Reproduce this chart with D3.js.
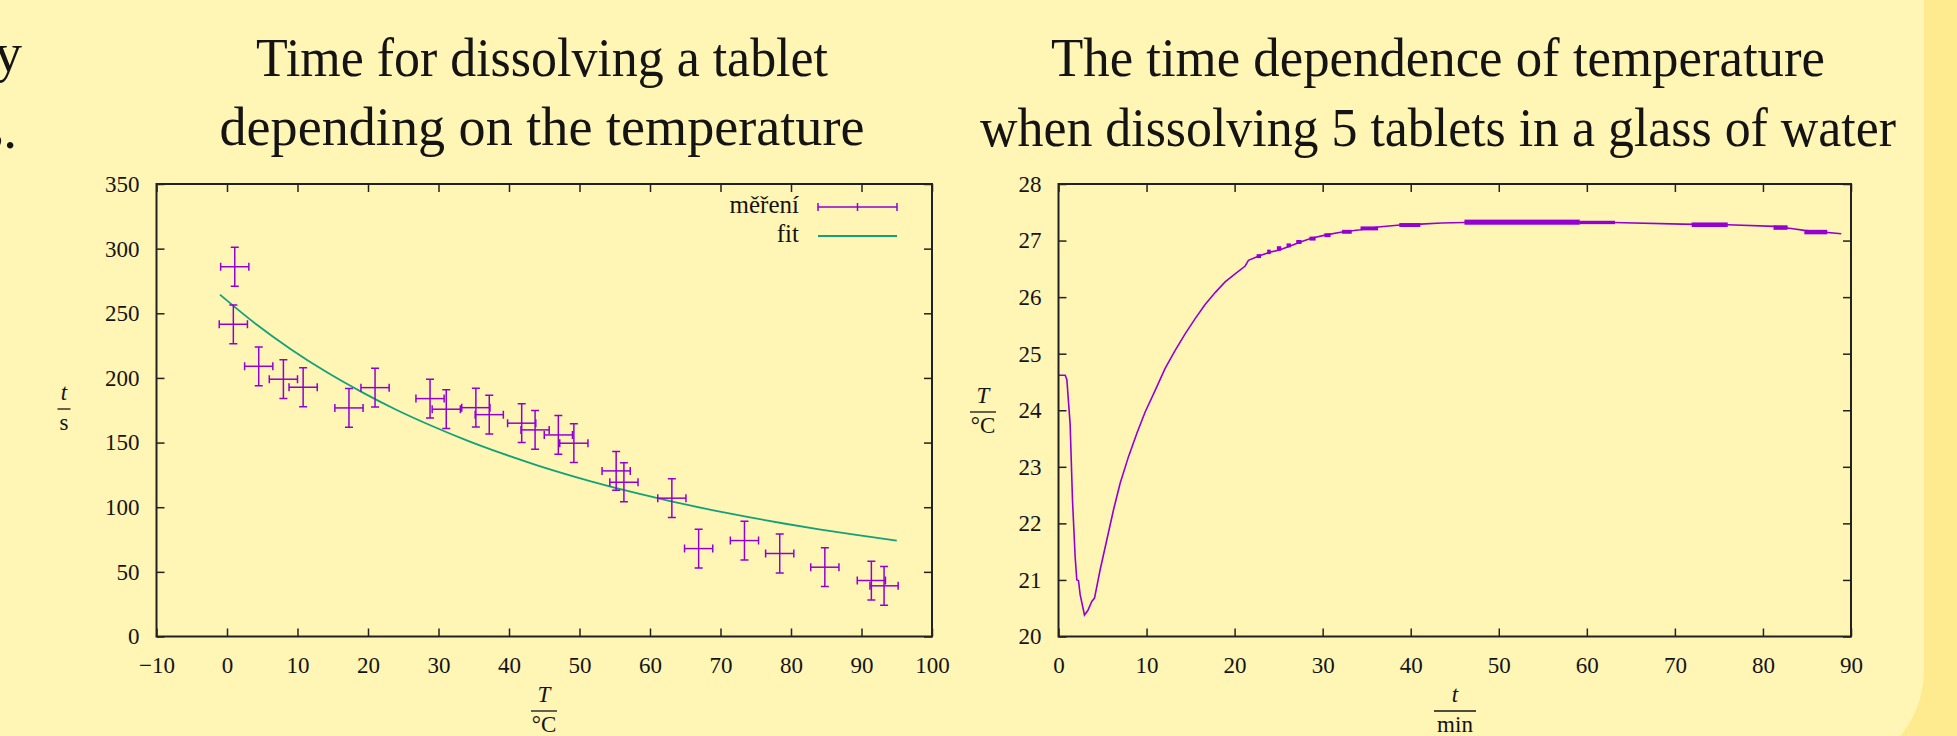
<!DOCTYPE html>
<html>
<head>
<meta charset="utf-8">
<script src="https://cdn.jsdelivr.net/npm/d3@7"></script>
<style>
    body { margin: 0; background: #ffeb8f; }
    svg text { font-family: "Liberation Serif", "DejaVu Serif", serif; fill: #141414; }
    .titles { font-size: 55px; }
    .tick text { font-size: 23px; }
    .tick line { stroke: #222; stroke-width: 1.5; }
    .domain { display: none; }
    .small { font-size: 23px; }
    .legend { font-size: 25px; }
</style>
</head>
<body>
<div id="chart"></div>
<script>
// Chart data
// left chart: tablet dissolving time vs temperature
const tabletTemp = [1.1, 0.9, 4.5, 8.0, 10.8, 17.3, 21.0, 28.8, 31.1, 35.3, 37.2, 41.8, 43.7, 47.0, 49.2, 55.2, 56.3, 63.1, 66.9, 73.4, 78.4, 84.8, 91.4, 93.2];
const tabletTime = [286, 241.5, 209, 199, 192.8, 176.8, 192.5, 184, 175.8, 177, 171.6, 165, 159.8, 155.9, 149.5, 128.1, 119.3, 107, 68, 74.2, 64.2, 53.6, 43.3, 39.2];
const tempError = 2;
const timeError = 15;
const fitTemp = [-1, 4, 9, 14, 19, 24, 29, 34, 39, 44, 49, 54, 59, 64, 69, 74, 79, 84, 89, 95];
const fitTime = [264.4, 242.1, 222.4, 204.9, 189.4, 175.4, 163.0, 151.7, 141.6, 132.4, 124.1, 116.5, 109.7, 103.3, 97.6, 92.3, 87.4, 82.9, 78.8, 74.2];
const leftXTicks = [-10, 0, 10, 20, 30, 40, 50, 60, 70, 80, 90, 100];
const leftYTicks = [0, 50, 100, 150, 200, 250, 300, 350];

// right chart: temperature of water vs time
const glassMinutes = [0, 0.76, 0.95, 1.32, 1.59, 1.89, 2.08, 2.27, 2.46, 2.95, 3.33, 3.78, 4.09, 4.73, 5.49, 6.25, 7.0, 7.95, 8.89, 9.84, 10.98, 12.11, 13.25, 14.38, 15.52, 16.65, 17.79, 18.92, 20.06, 21.2, 21.57, 22.83, 23.9, 25.0, 26.1, 27.4, 28.7, 30.4, 32.2, 34.3, 36.3, 39.1, 41.1, 43.5, 46.1, 63.0, 70.8, 76.0, 81.3, 83.4, 84.7, 88.9];
const glassTemp = [24.62, 24.62, 24.54, 23.76, 22.41, 21.41, 21.0, 20.99, 20.74, 20.38, 20.46, 20.62, 20.68, 21.18, 21.71, 22.24, 22.71, 23.18, 23.59, 23.97, 24.35, 24.74, 25.06, 25.35, 25.62, 25.87, 26.08, 26.27, 26.41, 26.55, 26.65, 26.73, 26.79, 26.83, 26.89, 26.97, 27.04, 27.10, 27.15, 27.19, 27.24, 27.28, 27.29, 27.31, 27.32, 27.32, 27.29, 27.28, 27.25, 27.21, 27.18, 27.12];
// sensor jitter: ranges where the reading flips between two values
const noiseStart = [22.5, 23.7, 24.8, 25.9, 27.0, 28.5, 30.2, 32.2, 34.3, 38.7, 46.1, 59.2, 71.9, 81.2, 84.7];
const noiseEnd   = [23.0, 24.1, 25.3, 26.4, 27.6, 29.2, 30.9, 33.3, 36.3, 41.1, 59.2, 63.2, 76.0, 82.8, 87.3];
const noiseLow   = [26.69, 26.76, 26.82, 26.88, 26.94, 27.00, 27.06, 27.12, 27.18, 27.24, 27.28, 27.29, 27.24, 27.19, 27.11];
const noiseHigh  = [26.76, 26.84, 26.90, 26.95, 27.01, 27.07, 27.13, 27.19, 27.25, 27.31, 27.37, 27.35, 27.32, 27.27, 27.19];
const rightXTicks = [0, 10, 20, 30, 40, 50, 60, 70, 80, 90];
const rightYTicks = [20, 21, 22, 23, 24, 25, 26, 27, 28];

const width = 1957;
const height = 736;
const purple = '#9400d3';
const green = '#12a27a';

const svg = d3.select('div#chart').append('svg').attr('width', width).attr('height', height);

// background: slide panel with rounded corner
svg.append('rect').attr('width', width).attr('height', height).attr('fill', '#ffeb8f');
svg.append('rect').attr('x', -120).attr('y', -120).attr('width', 2044).attr('height', 893).attr('rx', 103).attr('fill', '#fff5b5');

// text cut off at the left edge (previous column)
svg.append('text').attr('class', 'titles').attr('x', 22).attr('y', 71).attr('text-anchor', 'end').text('ly');
svg.append('text').attr('class', 'titles').attr('x', 17).attr('y', 148).attr('text-anchor', 'end').text('ts.');

// titles
function title(lines, cx) {
    lines.forEach(l => {
        svg.append('text').attr('class', 'titles')
            .attr('x', cx).attr('y', l.y).attr('text-anchor', 'middle')
            .attr('textLength', l.w).attr('lengthAdjust', 'spacingAndGlyphs')
            .text(l.text);
    });
}
title([{text: 'Time for dissolving a tablet', y: 76, w: 572},
       {text: 'depending on the temperature', y: 145, w: 645}], 542);
title([{text: 'The time dependence of temperature', y: 76, w: 774},
       {text: 'when dissolving 5 tablets in a glass of water', y: 146, w: 916}], 1438);

// fraction style axis labels
function fraction(cx, y, num, den, barW) {
    const g = svg.append('g').attr('class', 'small');
    g.append('text').attr('x', cx).attr('y', y).attr('text-anchor', 'middle').attr('font-style', 'italic').text(num);
    g.append('line').attr('x1', cx - barW / 2).attr('x2', cx + barW / 2).attr('y1', y + 9).attr('y2', y + 9)
        .attr('stroke', '#141414').attr('stroke-width', 1.3);
    g.append('text').attr('x', cx).attr('y', y + 30).attr('text-anchor', 'middle').text(den);
}

// frame with inward ticks on all four sides
function frame(x, y, xTicks, yTicks) {
    const [x0, x1] = x.range();
    const [y0, y1] = y.range();
    svg.append('g').attr('transform', `translate(0,${y0})`)
        .call(d3.axisBottom(x).tickValues(xTicks).tickSizeInner(-8).tickSizeOuter(0).tickPadding(20)
            .tickFormat(d => d < 0 ? '\u2212' + Math.abs(d) : d));
    svg.append('g').attr('transform', `translate(0,${y1})`)
        .call(d3.axisTop(x).tickValues(xTicks).tickSizeInner(-8).tickSizeOuter(0).tickFormat(''));
    svg.append('g').attr('transform', `translate(${x0},0)`)
        .call(d3.axisLeft(y).tickValues(yTicks).tickSizeInner(-8).tickSizeOuter(0).tickPadding(17));
    svg.append('g').attr('transform', `translate(${x1},0)`)
        .call(d3.axisRight(y).tickValues(yTicks).tickSizeInner(-8).tickSizeOuter(0).tickFormat(''));
    svg.append('rect').attr('x', x0).attr('y', y1).attr('width', x1 - x0).attr('height', y0 - y1)
        .attr('fill', 'none').attr('stroke', '#222').attr('stroke-width', 2);
}

// LEFT CHART
const xL = d3.scaleLinear().domain([-10, 100]).range([156.5, 932]);
const yL = d3.scaleLinear().domain([0, 350]).range([636.5, 184]);

const fitData = fitTemp.map((d, i) => ({T: d, t: fitTime[i]}));
svg.append('path').datum(fitData)
    .attr('fill', 'none').attr('stroke', green).attr('stroke-width', 1.8)
    .attr('d', d3.line().x(d => xL(d.T)).y(d => yL(d.t)).curve(d3.curveMonotoneX));

const cap = 4;
const points = tabletTemp.map((d, i) => ({T: d, t: tabletTime[i]}));
const bars = svg.append('g').attr('stroke', purple).attr('stroke-width', 1.5).attr('fill', 'none');
const pg = bars.selectAll('g').data(points).enter().append('g');
pg.append('line').attr('x1', d => xL(d.T - tempError)).attr('x2', d => xL(d.T + tempError))
    .attr('y1', d => yL(d.t)).attr('y2', d => yL(d.t));
pg.append('line').attr('x1', d => xL(d.T)).attr('x2', d => xL(d.T))
    .attr('y1', d => yL(d.t - timeError)).attr('y2', d => yL(d.t + timeError));
pg.append('path').attr('d', d => {
    const cx = xL(d.T), cy = yL(d.t);
    const xa = xL(d.T - tempError), xb = xL(d.T + tempError);
    const ya = yL(d.t - timeError), yb = yL(d.t + timeError);
    return `M${xa},${cy - cap}V${cy + cap}M${xb},${cy - cap}V${cy + cap}` +
        `M${cx - cap},${ya}H${cx + cap}M${cx - cap},${yb}H${cx + cap}`;
});

frame(xL, yL, leftXTicks, leftYTicks);

// legend
const lg = svg.append('g').attr('class', 'legend');
lg.append('text').attr('x', 799).attr('y', 213).attr('text-anchor', 'end').text('měření');
lg.append('path').attr('d', 'M818,207H897M818,203V211M897,203V211M857.5,203V211')
    .attr('stroke', purple).attr('stroke-width', 1.5).attr('fill', 'none');
lg.append('text').attr('x', 799).attr('y', 242).attr('text-anchor', 'end').text('fit');
lg.append('line').attr('x1', 818).attr('x2', 897).attr('y1', 236).attr('y2', 236)
    .attr('stroke', green).attr('stroke-width', 1.8);

fraction(544, 702, 'T', '°C', 26);
fraction(64, 400, 't', 's', 13);

// RIGHT CHART
const xR = d3.scaleLinear().domain([0, 90]).range([1058.5, 1851]);
const yR = d3.scaleLinear().domain([20, 28]).range([636.5, 184]);

const glassData = glassMinutes.map((d, i) => ({m: d, T: glassTemp[i]}));
svg.append('path').datum(glassData)
    .attr('fill', 'none').attr('stroke', purple).attr('stroke-width', 1.6)
    .attr('d', d3.line().x(d => xR(d.m)).y(d => yR(d.T)));

svg.append('g').attr('fill', purple).selectAll('rect').data(noiseStart).enter().append('rect')
    .attr('x', d => xR(d)).attr('width', (d, i) => xR(noiseEnd[i]) - xR(d))
    .attr('y', (d, i) => yR(noiseHigh[i])).attr('height', (d, i) => yR(noiseLow[i]) - yR(noiseHigh[i]));

frame(xR, yR, rightXTicks, rightYTicks);

fraction(983, 403, 'T', '°C', 26);
fraction(1455, 702, 't', 'min', 42);
</script>
</body>
</html>
